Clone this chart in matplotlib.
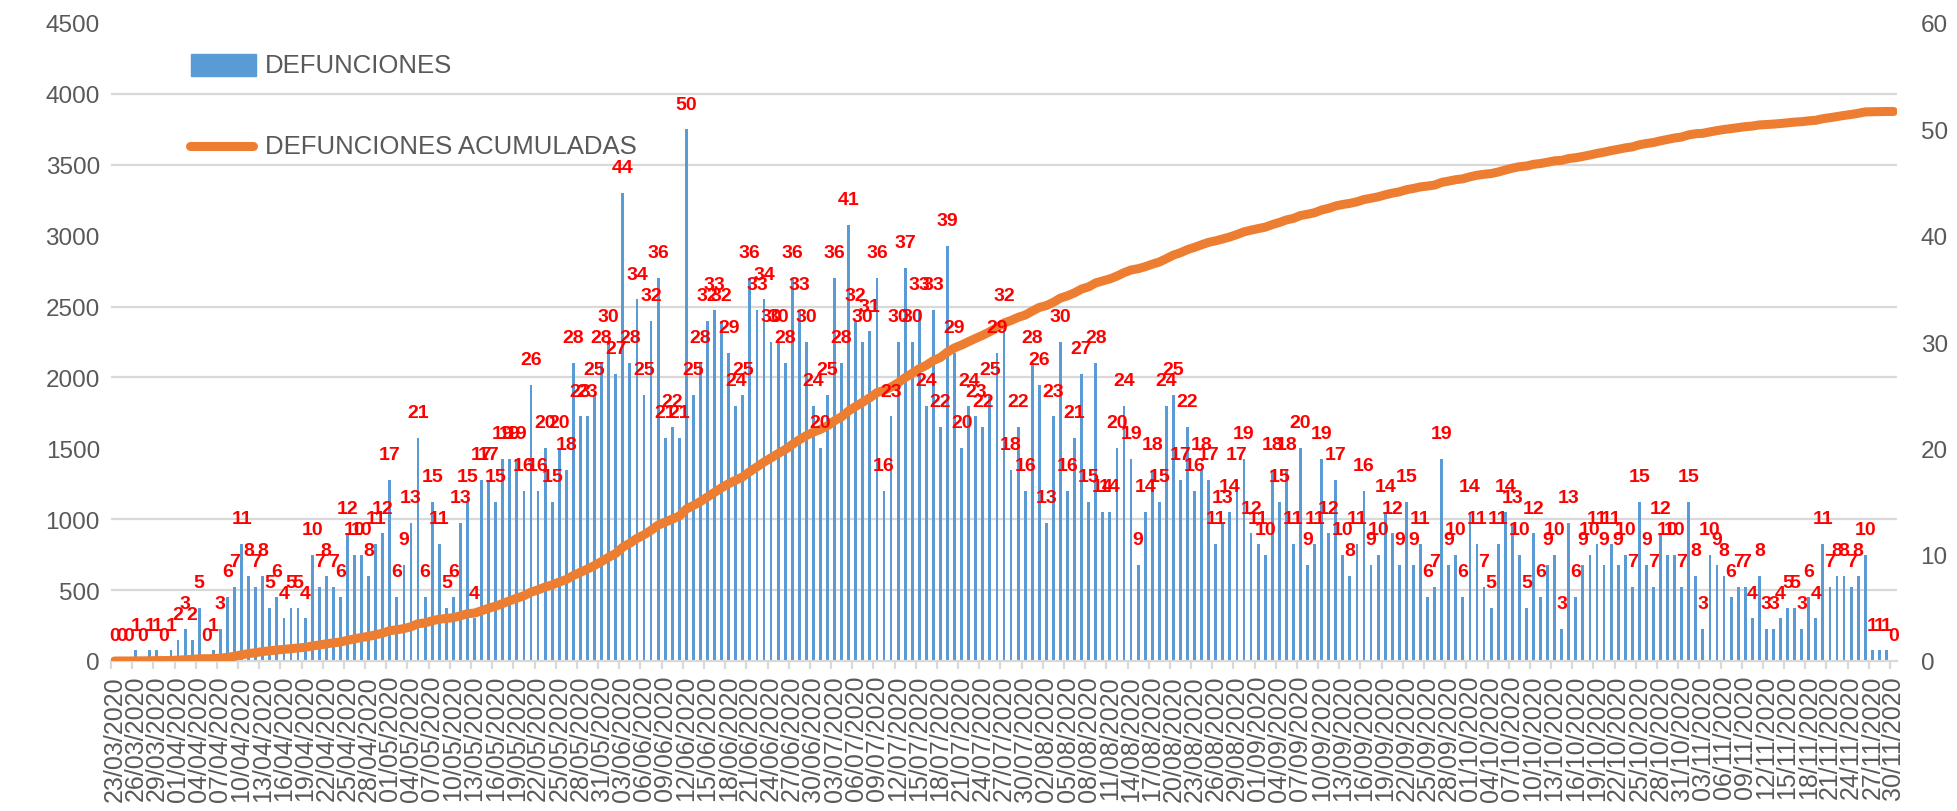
import matplotlib.pyplot as plt
from matplotlib.patches import Rectangle
from matplotlib.lines import Line2D
import numpy as np
import pandas as pd

# categorias: un dia por barra, del 23/03/2020 al 30/11/2020
fechas = pd.date_range('2020-03-23', '2020-11-30', freq='D').strftime('%d/%m/%Y').tolist()

# defunciones diarias (eje derecho)
defunciones = [
    0, 0, 0, 1, 0, 1, 1, 0, 1, 2, 3, 2, 5, 0, 1, 3, 6, 7, 11, 8, 7, 8,
    5, 6, 4, 5, 5, 4, 10, 7, 8, 7, 6, 12, 10, 10, 8, 11, 12, 17, 6, 9,
    13, 21, 6, 15, 11, 5, 6, 13, 15, 4, 17, 17, 15, 19, 19, 19, 16, 26, 16,
    20, 15, 20, 18, 28, 23, 23, 25, 28, 30, 27, 44, 28, 34, 25, 32, 36, 21, 22, 21, 50, 25,
    28, 32, 33, 32, 29, 24, 25, 36, 33, 34, 30, 30, 28, 36, 33, 30, 24, 20, 25, 36, 28,
    41, 32, 30, 31, 36, 16, 23, 30, 37, 30, 33, 24, 33, 22, 39, 29, 20, 24, 23, 22,
    25, 29, 32, 18, 22, 16, 28, 26, 13, 23, 30, 16, 21, 27, 15, 28, 14, 14, 20, 24, 19,
    9, 14, 18, 15, 24, 25, 17, 22, 16, 18, 17, 11, 13, 14, 17, 19, 12, 11, 10, 18,
    15, 18, 11, 20, 9, 11, 19, 12, 17, 10, 8, 11, 16, 9, 10, 14, 12, 9, 15, 9, 11,
    6, 7, 19, 9, 10, 6, 14, 11, 7, 5, 11, 14, 13, 10, 5, 12, 6, 9, 10, 3,
    13, 6, 9, 10, 11, 9, 11, 9, 10, 7, 15, 9, 7, 12, 10, 10, 7, 15, 8, 3, 10,
    9, 8, 6, 7, 7, 4, 8, 3, 3, 4, 5, 5, 3, 6, 4, 11, 7, 8, 8, 7, 8, 10, 1, 1, 1, 0,
]

# defunciones acumuladas (eje izquierdo)
acumuladas = np.cumsum(defunciones)

azul = '#5B9BD5'
naranja = '#ED7D31'
gris = '#595959'

fig = plt.figure(figsize=(19.57, 8.12), dpi=100)
plt.rcParams['font.family'] = ['Liberation Sans', 'DejaVu Sans']

ax_bar = fig.add_axes([111 / 1957, 150 / 812, 1786 / 1957, 638 / 812])
ax_lin = ax_bar.twinx()

x = np.arange(len(fechas))

# barras sobre el eje derecho
ax_bar.bar(x, defunciones, width=0.4, color=azul, zorder=2)
ax_bar.set_ylim(0, 60)
ax_bar.set_xlim(-0.5, len(fechas) - 0.5)
ax_bar.yaxis.tick_right()
ax_bar.set_yticks(np.arange(0, 61, 10))
# lineas de cuadricula alineadas con el eje izquierdo (cada 500)
ax_bar.set_yticks(np.arange(0, 4501, 500) / 75, minor=True)
ax_bar.grid(which='minor', axis='y', color='#D9D9D9', lw=1.6, zorder=0)
ax_bar.set_axisbelow(True)

# linea acumulada sobre el eje izquierdo
ax_lin.plot(x, acumuladas, color=naranja, lw=6.5,
            solid_capstyle='round', solid_joinstyle='round')
ax_lin.set_ylim(0, 4500)
ax_lin.yaxis.tick_left()
ax_lin.set_yticks(np.arange(0, 4501, 500))

# etiquetas de datos en rojo
for xi, v in zip(x, defunciones):
    ax_lin.annotate(str(v), xy=(xi, v), xycoords=ax_bar.transData,
                    xytext=(0, 15), textcoords='offset points',
                    ha='center', va='baseline', color='#FF0000',
                    fontsize=14, fontweight='bold')

for a in (ax_bar, ax_lin):
    for s in a.spines.values():
        s.set_visible(False)
ax_bar.spines['bottom'].set_visible(True)
ax_bar.spines['bottom'].set_color('#D9D9D9')
ax_bar.spines['bottom'].set_linewidth(1.6)

ax_bar.tick_params(axis='y', which='both', length=0, labelsize=17.5,
                   labelcolor=gris, pad=17)
ax_lin.tick_params(axis='y', length=0, labelsize=17.5, labelcolor=gris, pad=8)

# marcas entre grupos de 3 dias, etiquetas en el centro
pos = x[::3]
ax_bar.set_xticks(pos - 0.5)
ax_bar.set_xticklabels([])
ax_bar.set_xticks(pos, minor=True)
ax_bar.set_xticklabels([fechas[i] for i in pos], minor=True, rotation=90)
ax_bar.tick_params(axis='x', which='major', length=6, color='#D9D9D9', width=1.6)
ax_bar.tick_params(axis='x', which='minor', length=0, labelsize=18,
                   labelcolor=gris, pad=10)

# leyenda manual
fig.add_artist(Rectangle((191 / 1957, 1 - 77 / 812), 65 / 1957, 22 / 812,
                         transform=fig.transFigure, color=azul))
fig.text(265 / 1957, 1 - 66 / 812, 'DEFUNCIONES', fontsize=18.5,
         color=gris, va='center', ha='left')
fig.add_artist(Line2D([190 / 1957, 253 / 1957], [1 - 147 / 812, 1 - 147 / 812],
                      transform=fig.transFigure, color=naranja, lw=6.5,
                      solid_capstyle='round'))
fig.text(265 / 1957, 1 - 147 / 812, 'DEFUNCIONES ACUMULADAS', fontsize=18.5,
         color=gris, va='center', ha='left')

fig.savefig('out.png', dpi=100, facecolor='white')
